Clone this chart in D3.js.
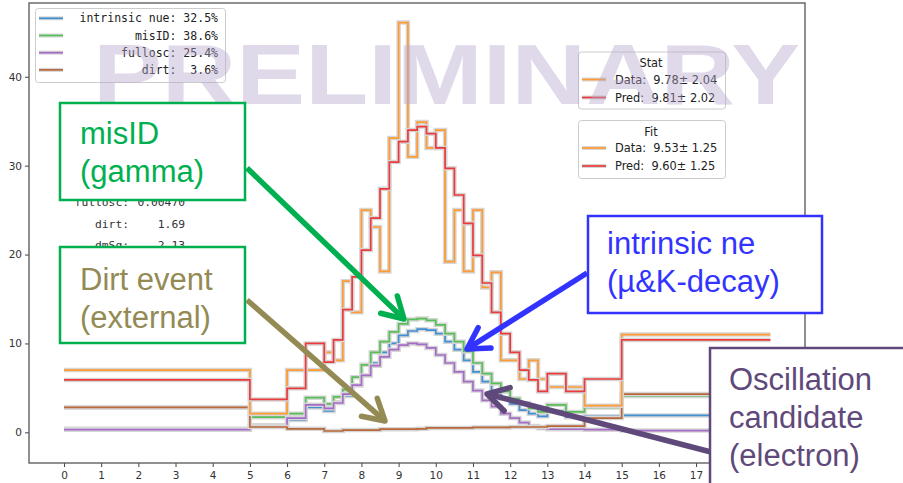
<!DOCTYPE html>
<html><head><meta charset="utf-8">
<script src="https://cdn.jsdelivr.net/npm/d3@7"></script>
<style>body{margin:0;background:#fff}svg{display:block}text{white-space:pre}</style>
</head><body>
<svg id="chart" width="903" height="483"></svg>
<script>
// ---------- data ----------
const binEdges = [0,5,6,6.5,7,7.25,7.5,7.75,8,8.25,8.5,8.75,9,9.25,9.5,9.75,10,10.25,10.5,10.75,11,11.25,11.5,11.75,12,12.25,12.5,12.75,13,13.5,14,15,19];
const intrinsicNue = [0.4,0.8,1.4,2.8,2.4,3.4,4.1,5.3,6.4,7.8,9.0,10.0,10.9,11.4,11.6,11.5,11.1,10.2,9.3,8.1,6.8,5.7,4.6,3.8,3.2,2.5,2.1,1.8,2.4,1.7,1.8,1.9];
const misID        = [2.8,1.7,2.1,3.9,3.2,4.0,4.8,6.2,7.6,9.0,10.2,11.3,12.2,12.7,12.8,12.6,12.1,11.1,10.2,9.1,7.8,6.6,5.5,4.6,3.8,3.3,2.7,2.3,3.1,2.3,2.8,4.1];
const fullosc      = [0.3,0.7,1.6,3.1,2.7,3.3,4.3,5.3,6.4,7.5,8.5,9.3,9.8,10.0,9.9,9.5,8.7,7.8,6.8,5.7,4.7,3.6,2.9,2.1,1.6,1.1,0.7,0.45,0.35,0.35,0.3,0.2];
const dirt         = [2.8,0.6,0.4,0.4,0.15,0.15,0.25,0.25,0.25,0.25,0.35,0.35,0.35,0.35,0.4,0.5,0.5,0.5,0.5,0.5,0.55,0.55,0.55,0.55,0.6,0.6,0.6,0.6,0.7,0.7,1.6,4.3];
const dataCounts   = [7.0,2.1,7.0,7.0,9.0,8.1,17.0,13.5,25.0,23.1,18.1,33.1,46.1,31.0,34.9,32.0,34.0,19.2,25.0,18.1,25.0,16.3,18.0,8.1,8.1,6.0,8.1,6.0,5.1,5.1,3.0,11.0];
const predCounts   = [5.9,3.7,4.95,10.0,7.9,10.4,13.8,17.5,20.5,24.1,27.4,30.4,32.7,34.0,34.4,33.6,32.0,29.7,26.7,23.5,19.9,16.8,13.5,11.1,9.0,7.0,5.9,4.6,6.6,4.6,6.0,10.4];

const xTicks = [0,1,2,3,4,5,6,7,8,9,10,11,12,13,14,15,16,17,18,19];
const yTicks = [0,10,20,30,40];
const legendLabels = ["intrinsic nue: 32.5%","misID: 38.6%","fullosc: 25.4%","dirt:  3.6%"];
const statLabels = ["Data:  9.78\u00b1 2.04","Pred:  9.81\u00b1 2.02"];
const fitLabels  = ["Data:  9.53\u00b1 1.25","Pred:  9.60\u00b1 1.25"];
const paramNames  = ["fullosc:","dirt:","dmSq:"];
const paramValues = ["0.00470","1.69","2.13"];

// ---------- setup ----------
const svg = d3.select("#chart");
const L = 29, R = 805, T = 3, B = 463;
const x = d3.scaleLinear().domain([-0.941, 19.93]).range([L, R]);
const y = d3.scaleLinear().domain([-3.45, 48.3]).range([B, T]);

const C = {
  blue:"#3f8fd2", green:"#58bf58", purple:"#a56cc6", brown:"#b8683a",
  orange:"#ff9a30", red:"#ec3a3c"
};

svg.append("rect").attr("x",L).attr("y",T).attr("width",R-L).attr("height",B-T).attr("fill","#fff");

const step = d3.line().x(d=>x(d[0])).y(d=>y(d[1])).curve(d3.curveStepAfter);
function pts(vals){
  const p = vals.map((v,i)=>[binEdges[i], v]);
  p.push([binEdges[binEdges.length-1], vals[vals.length-1]]);
  return p;
}
const series = [
  {v:intrinsicNue, c:C.blue},
  {v:misID, c:C.green},
  {v:fullosc, c:C.purple},
  {v:dirt, c:C.brown},
  {v:dataCounts, c:C.orange},
  {v:predCounts, c:C.red}
];
const plot = svg.append("g");
series.forEach(s=>{
  plot.append("path").attr("d", step(pts(s.v))).attr("fill","none")
    .attr("stroke","#d6d6d6").attr("stroke-width",4.5);
  plot.append("path").attr("d", step(pts(s.v))).attr("fill","none")
    .attr("stroke",s.c).attr("stroke-width",1.7);
});

// axes
const xAxis = svg.append("g").attr("transform",`translate(0,${B})`)
  .call(d3.axisBottom(x).tickValues(xTicks).tickFormat(d3.format("d")).tickSize(4).tickSizeOuter(0));
const yAxis = svg.append("g").attr("transform",`translate(${L},0)`)
  .call(d3.axisLeft(y).tickValues(yTicks).tickSize(4).tickSizeOuter(0));
[xAxis,yAxis].forEach(a=>{
  a.select(".domain").remove();
  a.selectAll(".tick line").attr("stroke","#444").attr("stroke-width",1);
  a.selectAll(".tick text").attr("fill","#333").style("font-family","DejaVu Sans")
    .style("font-size","10.5px");
});
xAxis.selectAll(".tick text").attr("dy","0.9em");
svg.append("rect").attr("x",L).attr("y",T).attr("width",R-L).attr("height",B-T)
  .attr("fill","none").attr("stroke","#555").attr("stroke-width",1.3);
svg.append("text").attr("x",388).attr("y",489).text("ns")
  .style("font-family","DejaVu Sans").style("font-size","11px").attr("fill","#333");

// top-left legend
const lg = svg.append("g");
lg.append("rect").attr("x",35.5).attr("y",8.5).attr("width",190).attr("height",74).attr("rx",3)
  .attr("fill","#fff").attr("fill-opacity",0.85).attr("stroke","#cccccc");
const lgCols = [C.blue,C.green,C.purple,C.brown];
legendLabels.forEach((t,i)=>{
  const yy = 18.3 + i*17.2;
  lg.append("line").attr("x1",39).attr("x2",63).attr("y1",yy).attr("y2",yy)
    .attr("stroke","#d6d6d6").attr("stroke-width",4);
  lg.append("line").attr("x1",39).attr("x2",63).attr("y1",yy).attr("y2",yy)
    .attr("stroke",lgCols[i]).attr("stroke-width",1.7);
  lg.append("text").attr("x",218).attr("y",yy+4).attr("text-anchor","end").text(t)
    .style("font-family","DejaVu Sans Mono").style("font-size","11.5px").attr("fill","#222");
});

// stat / fit boxes
function box(yTop, h, title, labels){
  const g = svg.append("g");
  g.append("rect").attr("x",578.5).attr("y",yTop).attr("width",147).attr("height",h).attr("rx",3)
    .attr("fill","#fff").attr("fill-opacity",0.85).attr("stroke","#cccccc");
  g.append("text").attr("x",651).attr("y",yTop+15).attr("text-anchor","middle").text(title)
    .style("font-family","DejaVu Sans").style("font-size","11.4px").attr("fill","#222");
  [C.orange,C.red].forEach((c,i)=>{
    const yy = yTop + 27.5 + i*18;
    g.append("line").attr("x1",582).attr("x2",606).attr("y1",yy).attr("y2",yy)
      .attr("stroke","#d6d6d6").attr("stroke-width",4);
    g.append("line").attr("x1",582).attr("x2",606).attr("y1",yy).attr("y2",yy)
      .attr("stroke",c).attr("stroke-width",1.7);
    g.append("text").attr("x",615).attr("y",yy+4).text(labels[i])
      .style("font-family","DejaVu Sans").style("font-size","11.4px").attr("fill","#222");
  });
}
box(52, 57, "Stat", statLabels);
box(120.5, 58, "Fit", fitLabels);

// parameter table text (partly hidden by the annotation boxes)
const rowY = [206,227.5,249];
paramNames.forEach((n,i)=>{
  svg.append("text").attr("x",129).attr("y",rowY[i]).attr("text-anchor","end").text(n)
    .style("font-family","DejaVu Sans Mono").style("font-size","11.3px").attr("fill","#333");
  svg.append("text").attr("x",185).attr("y",rowY[i]).attr("text-anchor","end").text(paramValues[i])
    .style("font-family","DejaVu Sans Mono").style("font-size","11.3px").attr("fill","#333");
});

// watermark
svg.append("text").attr("x",93).attr("y",104).text("PRELIMINARY")
  .attr("textLength",707).attr("lengthAdjust","spacingAndGlyphs")
  .style("font-family","Liberation Sans").style("font-weight","bold").style("font-size","85px")
  .attr("fill","#b5a5cc").attr("fill-opacity",0.42);

// annotations
const ann = svg.append("g");
function arrow(x1,y1,x2,y2,color){
  const a = Math.atan2(y2-y1,x2-x1), len = 24, ha = Math.PI/6;
  ann.append("line").attr("x1",x1).attr("y1",y1).attr("x2",x2-Math.cos(a)*2).attr("y2",y2-Math.sin(a)*2)
    .attr("stroke",color).attr("stroke-width",5.5);
  const p1 = [x2 - len*Math.cos(a-ha), y2 - len*Math.sin(a-ha)];
  const p2 = [x2 - len*Math.cos(a+ha), y2 - len*Math.sin(a+ha)];
  ann.append("path").attr("d",`M${p1}L${x2},${y2}L${p2}`).attr("fill","none")
    .attr("stroke",color).attr("stroke-width",5.5).attr("stroke-linecap","round").attr("stroke-linejoin","round");
}
function abox(x0,y0,w,h,stroke,color,lines,tx,ty0,dy){
  ann.append("rect").attr("x",x0).attr("y",y0).attr("width",w).attr("height",h)
    .attr("fill","#fff").attr("stroke",stroke).attr("stroke-width",2.5);
  lines.forEach((t,i)=>{
    ann.append("text").attr("x",tx).attr("y",ty0+i*dy).text(t)
      .style("font-family","Liberation Sans").style("font-size","31px").attr("fill",color);
  });
}
const GREEN="#00b050", OLIVE="#948a54", BLUE="#3333ff", PURP="#5f497a";
abox(60,103,185,97,GREEN,GREEN,["misID","(gamma)"],80,144,38);
arrow(247,168,404,319,GREEN);
abox(60,247,185,96,GREEN,OLIVE,["Dirt event","(external)"],80,290,38);
arrow(247,300,385,421,OLIVE);
abox(588,216,234,97,BLUE,BLUE,["intrinsic ne","(\u00b5&K-decay)"],607,254,38);
arrow(587,273,467,349,BLUE);
arrow(711,452,487,394,PURP);
abox(710,348,210,150,PURP,PURP,["Oscillation","candidate","(electron)"],729,390,38);
</script>
</body></html>
